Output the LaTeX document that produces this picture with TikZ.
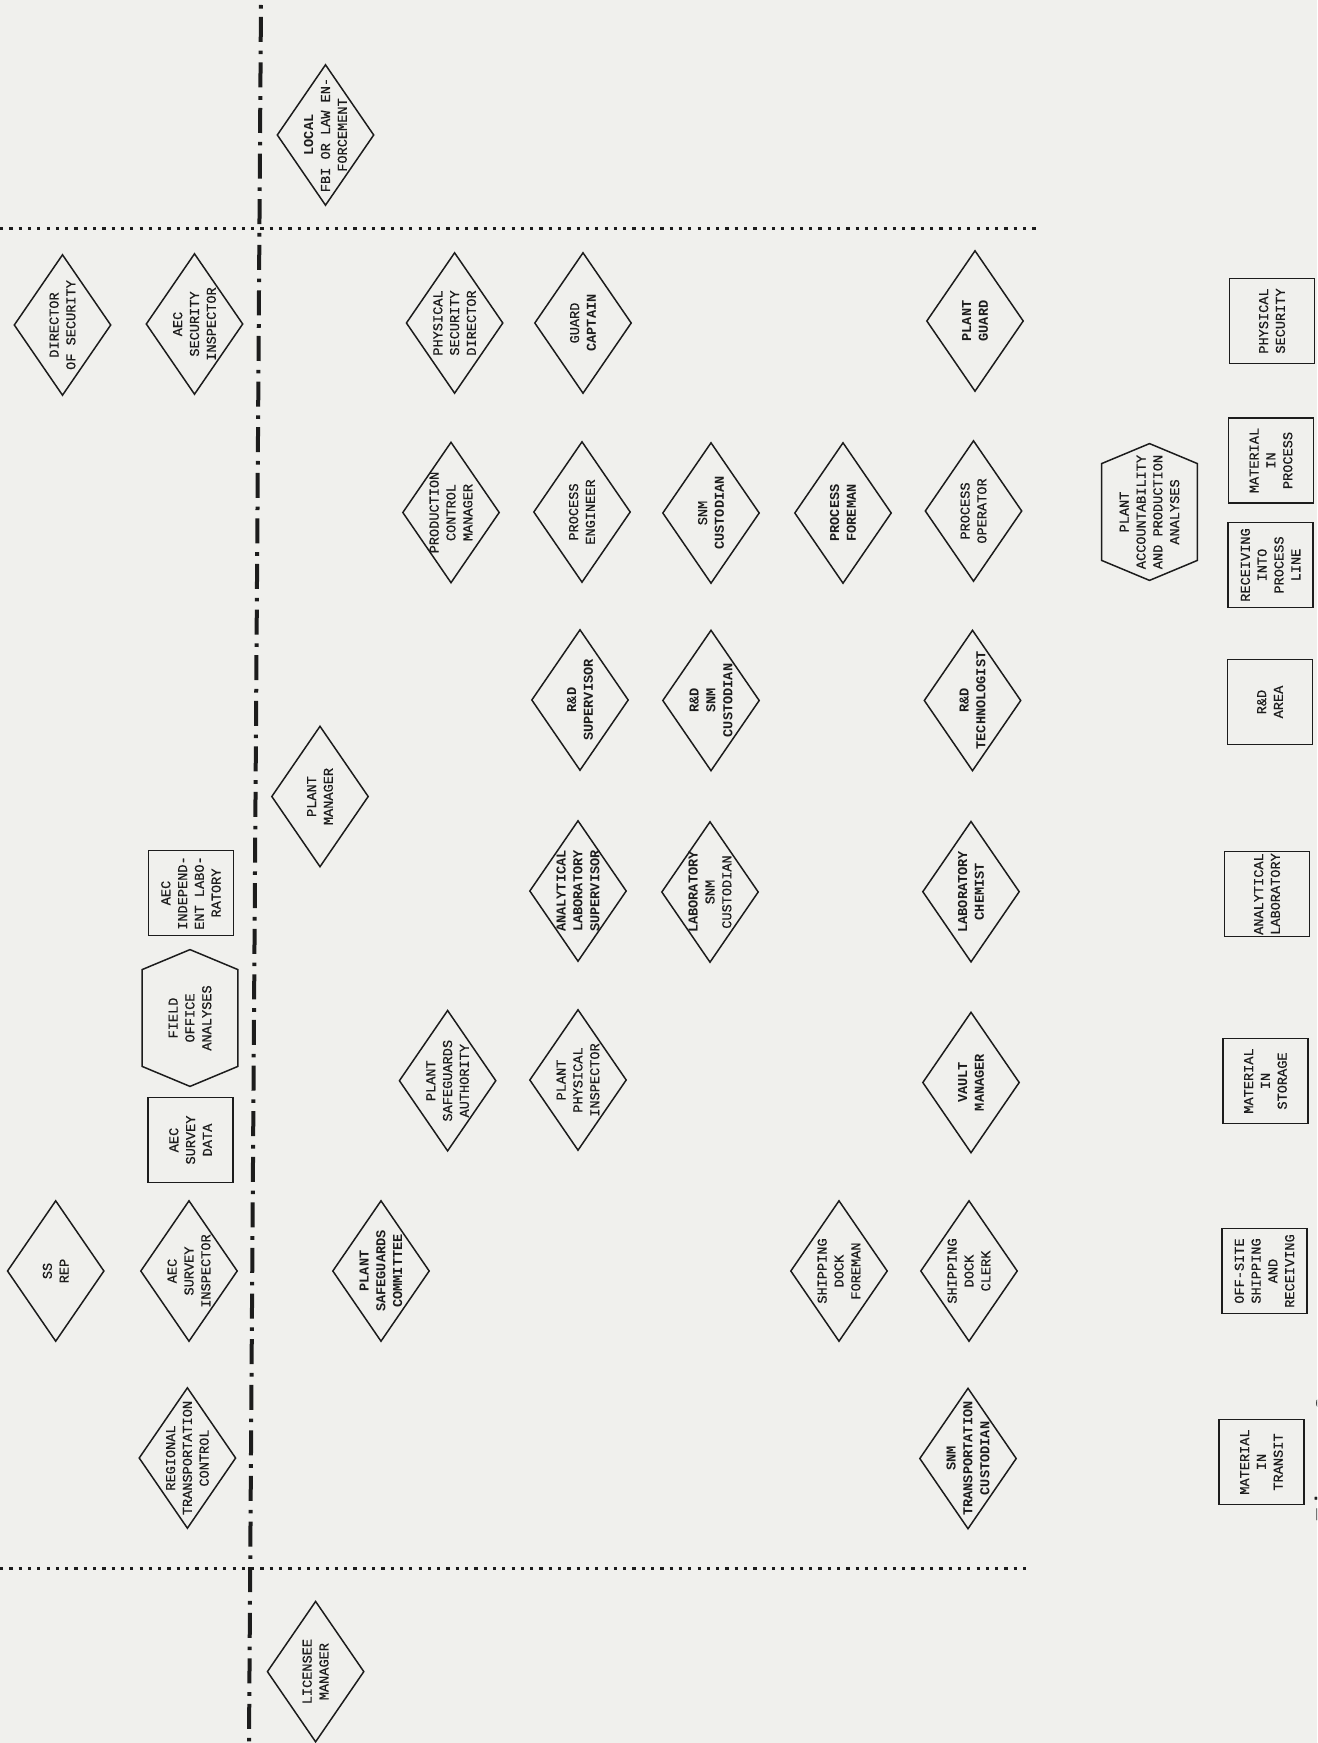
\documentclass[tikz,border=0pt]{standalone}
\usepackage{fontspec}
\usetikzlibrary{shapes.geometric}
\newfontfamily\twfam{Liberation Mono}[UprightFeatures={FakeBold=0.6}]
\newcommand\twfont{\twfam\fontsize{6.8pt}{8.4pt}\selectfont}
\newcommand\capfont{\twfam\fontsize{13.3pt}{16pt}\selectfont}
\definecolor{inkc}{RGB}{28,28,28}
\definecolor{bgc}{RGB}{240,240,237}
\tikzset{
  ink/.style={draw=inkc, line width=0.75pt},
  dia/.style={ink, shape=diamond, minimum width=48.5pt, minimum height=70.5pt, inner sep=0pt},
  boxn/.style={ink, rectangle, minimum width=42.5pt, minimum height=42.5pt, inner sep=0pt},
  hexn/.style={rectangle, minimum width=47.5pt, minimum height=68pt, inner sep=0pt},
  lbl/.style={rotate=90, align=center, font=\twfont, inner sep=0pt, text=inkc},
  lblb/.style={lbl, font=\twfont\bfseries},
  hdot/.style={draw=inkc, line width=1.6pt, dash pattern=on 1.6pt off 3.05pt},
  vdash/.style={draw=inkc, line width=2pt, dash pattern=on 1.8pt off 4.1pt on 12.5pt off 4.4pt, dash phase=20.3pt}
}
\begin{document}
\begin{tikzpicture}[x=0.5pt,y=-0.5pt]
\clip (0,0) rectangle (1317,1743);
\fill[bgc] (0,0) rectangle (1317,1743);

% separator lines
\coordinate (vt) at (261,0);
\coordinate (vb) at (249,1743);
\coordinate (h1l) at (0,228.5);
\coordinate (h1r) at (1038,228.5);
\coordinate (h2l) at (0,1568.5);
\coordinate (h2r) at (1031,1568.5);
\draw[hdot] (h1l) -- (h1r);
\draw[hdot] (h2l) -- (h2r);
\draw[vdash] (vt) -- (vb);

% diamonds
\node[dia] (fbi) at (325.5,135) {};
\node[lbl] (fbit) at (fbi) {\textbf{LOCAL}\\FBI OR LAW EN-\\FORCEMENT};
\node[dia] (dirsec) at (62.5,325) {};
\node[lbl] (dirsect) at (dirsec) {DIRECTOR\\OF SECURITY};
\node[dia] (aecsi) at (194.5,324) {};
\node[lbl] (aecsit) at (aecsi) {AEC\\SECURITY\\INSPECTOR};
\node[dia] (psd) at (454.6,323) {};
\node[lbl] (psdt) at (psd) {PHYSICAL\\SECURITY\\DIRECTOR};
\node[dia] (gcap) at (583,323) {};
\node[lbl] (gcapt) at (gcap) {GUARD\\\textbf{CAPTAIN}};
\node[dia] (pguard) at (975,321) {};
\node[lblb] (pguardt) at (pguard) {PLANT\\GUARD};

\node[dia] (pcm) at (451,512.5) {};
\node[lbl] (pcmt) at (pcm) {PRODUCTION\\CONTROL\\MANAGER};
\node[dia] (peng) at (582,512) {};
\node[lbl] (pengt) at (peng) {PROCESS\\ENGINEER};
\node[dia] (snmc) at (711,513) {};
\node[lbl] (snmct) at (snmc) {SNM\\\textbf{CUSTODIAN}};
\node[dia] (pfore) at (843,513) {};
\node[lblb] (pforet) at (pfore) {PROCESS\\FOREMAN};
\node[dia] (pop) at (973.5,511) {};
\node[lbl] (popt) at (pop) {PROCESS\\OPERATOR};

\node[dia] (pman) at (320,796.5) {};
\node[lbl] (pmant) at (pman) {PLANT\\MANAGER};
\node[dia] (rds) at (580,700) {};
\node[lblb] (rdst) at (rds) {R\&D\\SUPERVISOR};
\node[dia] (rdsnm) at (711,700.5) {};
\node[lblb] (rdsnmt) at (rdsnm) {R\&D\\SNM\\CUSTODIAN};
\node[dia] (rdtech) at (972.5,700.5) {};
\node[lblb] (rdtecht) at (rdtech) {R\&D\\TECHNOLOGIST};

\node[dia] (als) at (578,891) {};
\node[lblb] (alst) at (als) {ANALYTICAL\\LABORATORY\\SUPERVISOR};
\node[dia] (lsnm) at (710,892) {};
\node[lbl] (lsnmt) at (lsnm) {\textbf{LABORATORY}\\SNM\\CUSTODIAN};
\node[dia] (lchem) at (971,891.7) {};
\node[lblb] (lchemt) at (lchem) {LABORATORY\\CHEMIST};

\node[dia] (psa) at (447.6,1080.7) {};
\node[lbl] (psat) at (psa) {PLANT\\SAFEGUARDS\\AUTHORITY};
\node[dia] (ppi) at (578,1080) {};
\node[lbl] (ppit) at (ppi) {PLANT\\PHYSICAL\\INSPECTOR};
\node[dia] (vault) at (971,1082.5) {};
\node[lblb] (vaultt) at (vault) {VAULT\\MANAGER};

\node[dia] (ssrep) at (55.7,1271) {};
\node[lbl] (ssrept) at (ssrep) {SS\\REP};
\node[dia] (aecsurv) at (189,1271) {};
\node[lbl] (aecsurvt) at (aecsurv) {AEC\\SURVEY\\INSPECTOR};
\node[dia] (psc) at (381,1271) {};
\node[lblb] (psct) at (psc) {PLANT\\SAFEGUARDS\\COMMITTEE};
\node[dia] (sdf) at (839,1271) {};
\node[lbl] (sdft) at (sdf) {SHIPPING\\DOCK\\FOREMAN};
\node[dia] (sdc) at (969,1271) {};
\node[lbl] (sdct) at (sdc) {SHIPPING\\DOCK\\CLERK};

\node[dia] (rtc) at (187.4,1458) {};
\node[lbl] (rtct) at (rtc) {REGIONAL\\TRANSPORTATION\\CONTROL};
\node[dia] (snmtc) at (968,1458.5) {};
\node[lblb] (snmtct) at (snmtc) {SNM\\TRANSPORTATION\\CUSTODIAN};

\node[dia] (licm) at (315.6,1671.6) {};
\node[lbl] (licmt) at (licm) {LICENSEE\\MANAGER};

% hexagons
\node[hexn] (pacc) at (1149.5,512) {};
\draw[ink] ([yshift=-10pt]pacc.north west) -- (pacc.north) -- ([yshift=-10pt]pacc.north east)
  -- ([yshift=10pt]pacc.south east) -- (pacc.south) -- ([yshift=10pt]pacc.south west) -- cycle;
\node[lbl] (pacct) at (pacc) {PLANT\\ACCOUNTABILITY\\AND PRODUCTION\\ANALYSES};
\node[hexn] (foa) at (190,1018) {};
\draw[ink] ([yshift=-10pt]foa.north west) -- (foa.north) -- ([yshift=-10pt]foa.north east)
  -- ([yshift=10pt]foa.south east) -- (foa.south) -- ([yshift=10pt]foa.south west) -- cycle;
\node[lbl] (foat) at (foa) {FIELD\\OFFICE\\ANALYSES};

% boxes
\node[boxn] (bps) at (1272,321) {};
\node[lbl] (bpst) at (bps) {PHYSICAL\\SECURITY};
\node[boxn] (bmip) at (1271,460.5) {};
\node[lbl] (bmipt) at (bmip) {MATERIAL\\IN\\PROCESS};
\node[boxn] (brec) at (1270.5,565) {};
\node[lbl] (brect) at (brec) {RECEIVING\\INTO\\PROCESS\\LINE};
\node[boxn] (brd) at (1270,702) {};
\node[lbl] (brdt) at (brd) {R\&D\\AREA};
\node[boxn] (bal) at (1267,894) {};
\node[lbl] (balt) at (bal) {ANALYTICAL\\LABORATORY};
\node[boxn] (bmis) at (1265.5,1081) {};
\node[lbl] (bmist) at (bmis) {MATERIAL\\IN\\STORAGE};
\node[boxn] (boff) at (1264.5,1271) {};
\node[lbl] (bofft) at (boff) {OFF-SITE\\SHIPPING\\AND\\RECEIVING};
\node[boxn] (bmit) at (1261.5,1462) {};
\node[lbl] (bmitt) at (bmit) {MATERIAL\\IN\\TRANSIT};
\node[boxn] (baecil) at (191,893) {};
\node[lbl] (baecilt) at (baecil) {AEC\\INDEPEND-\\ENT LABO-\\RATORY};
\node[boxn] (baecsd) at (190.5,1140) {};
\node[lbl] (baecsdt) at (baecsd) {AEC\\SURVEY\\DATA};

% cut-off caption at the right edge
\node[rotate=90, anchor=base west, font=\capfont, text=inkc, inner sep=0pt] (cap) at (1334,1523) {Figure 9};
\end{tikzpicture}
\end{document}
